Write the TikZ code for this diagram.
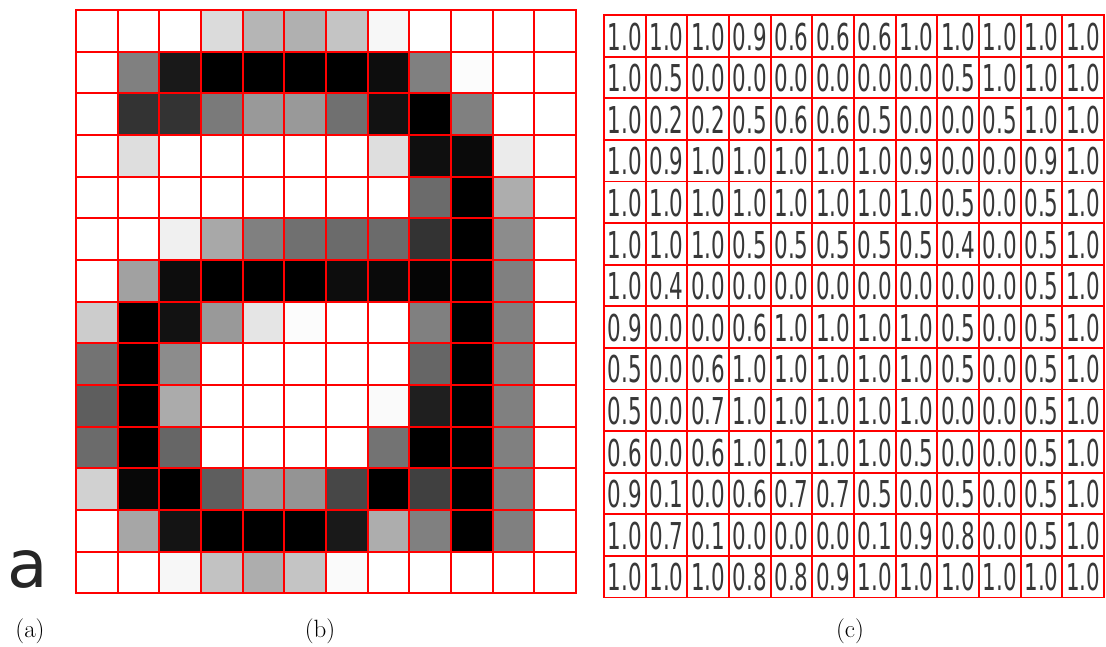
\documentclass[tikz,border=0pt]{standalone}
\usepackage{fontspec}
\usepackage{graphicx}
\newfontfamily\dejavu{DejaVu Sans}
\tikzset{
  bline/.style={draw=red, line width=2.2pt, line cap=rect},
  cline/.style={draw=red, line width=1.8pt, line cap=rect},
  numtxt/.style={inner sep=0pt, text=black!78, font={\dejavu\fontsize{37pt}{37pt}\selectfont}},
  caption/.style={inner sep=0pt, font={\fontsize{25pt}{25pt}\selectfont}},
}
\begin{document}
\begin{tikzpicture}[x=1pt,y=-1pt]
\useasboundingbox (0,0) rectangle (1106,646);
\fill[white] (0,0) rectangle (1106,646);
\def\bx{76}\def\by{10}\def\cs{41.67}
\def\cx{604}\def\cy{15}\def\cw{41.67}\def\ch{41.6}
% (b) grey cells
\foreach \row [count=\r] in {
 {100,100,100,86,71,69,77,97,100,100,100,100},
 {100,50,10,0,0,0,0,5,50,99,100,100},
 {100,20,20,48,60,60,44,7,0,50,100,100},
 {100,87,100,100,100,100,100,87,6,4,92,100},
 {100,100,100,100,100,100,100,100,42,0,68,100},
 {100,100,94,66,50,44,42,42,20,0,55,100},
 {100,63,5,0,0,0,5,4,2,0,50,100},
 {80,0,7,60,90,99,100,100,50,0,50,100},
 {45,0,55,100,100,100,100,100,40,0,50,100},
 {37,0,67,100,100,100,100,98,12,0,50,100},
 {42,0,40,100,100,100,100,45,0,0,50,100},
 {82,3,0,37,60,58,28,0,25,0,50,100},
 {100,65,8,0,0,0,10,68,50,0,50,100},
 {100,100,97,76,68,77,98,100,100,100,100,100}} {
  \foreach \g [count=\c] in \row {
    \fill[white!\g!black] ({\bx+(\c-1)*\cs},{\by+(\r-1)*\cs}) rectangle +(\cs,\cs);
  }
}
\foreach \i in {0,...,12}
  \draw[bline] ({\bx+\i*\cs},\by) -- ({\bx+\i*\cs},{\by+14*\cs});
\foreach \j in {0,...,14}
  \draw[bline] (\bx,{\by+\j*\cs}) -- ({\bx+12*\cs},{\by+\j*\cs});
% (c) numbers
\foreach \row [count=\r] in {
 {1.0,1.0,1.0,0.9,0.6,0.6,0.6,1.0,1.0,1.0,1.0,1.0},
 {1.0,0.5,0.0,0.0,0.0,0.0,0.0,0.0,0.5,1.0,1.0,1.0},
 {1.0,0.2,0.2,0.5,0.6,0.6,0.5,0.0,0.0,0.5,1.0,1.0},
 {1.0,0.9,1.0,1.0,1.0,1.0,1.0,0.9,0.0,0.0,0.9,1.0},
 {1.0,1.0,1.0,1.0,1.0,1.0,1.0,1.0,0.5,0.0,0.5,1.0},
 {1.0,1.0,1.0,0.5,0.5,0.5,0.5,0.5,0.4,0.0,0.5,1.0},
 {1.0,0.4,0.0,0.0,0.0,0.0,0.0,0.0,0.0,0.0,0.5,1.0},
 {0.9,0.0,0.0,0.6,1.0,1.0,1.0,1.0,0.5,0.0,0.5,1.0},
 {0.5,0.0,0.6,1.0,1.0,1.0,1.0,1.0,0.5,0.0,0.5,1.0},
 {0.5,0.0,0.7,1.0,1.0,1.0,1.0,1.0,0.0,0.0,0.5,1.0},
 {0.6,0.0,0.6,1.0,1.0,1.0,1.0,0.5,0.0,0.0,0.5,1.0},
 {0.9,0.1,0.0,0.6,0.7,0.7,0.5,0.0,0.5,0.0,0.5,1.0},
 {1.0,0.7,0.1,0.0,0.0,0.0,0.1,0.9,0.8,0.0,0.5,1.0},
 {1.0,1.0,1.0,0.8,0.8,0.9,1.0,1.0,1.0,1.0,1.0,1.0}} {
  \foreach \v [count=\c] in \row {
    \node[numtxt] (n-\r-\c) at ({\cx+(\c-0.5)*\cw},{\cy+(\r-0.5)*\ch+0.8}) {\scalebox{0.58}[1]{\v}};
  }
}
\foreach \i in {0,...,12}
  \draw[cline] ({\cx+\i*\cw},\cy) -- ({\cx+\i*\cw},{\cy+14*\ch});
\foreach \j in {0,...,14}
  \draw[cline] (\cx,{\cy+\j*\ch}) -- ({\cx+12*\cw},{\cy+\j*\ch});
% (a) glyph
\node[inner sep=0pt, anchor=base, text=black!85, font={\dejavu\fontsize{66pt}{66pt}\selectfont}] (glyph) at (28,587) {a};
% captions
\node[caption] (capa) at (30,631) {(a)};
\node[caption] (capb) at (320,631) {(b)};
\node[caption] (capc) at (850,631) {(c)};
\end{tikzpicture}
\end{document}
